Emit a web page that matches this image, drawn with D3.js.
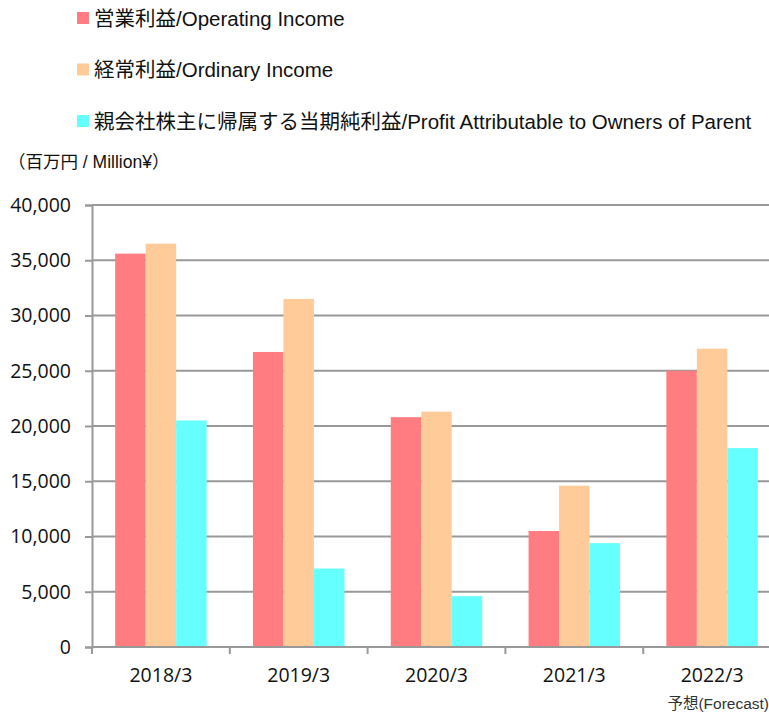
<!DOCTYPE html>
<html>
<head>
<meta charset="utf-8">
<script src="https://cdn.jsdelivr.net/npm/d3@7"></script>
<style>
  body { margin: 0; background: #fff; }
  svg { display: block; }
  .legendText { font-family: "Liberation Sans", Arial, "Noto Sans CJK JP", sans-serif; font-size: 20.5px; fill: #111; }
  .tickText { font-family: "Open Sans", "DejaVu Sans", sans-serif; font-size: 19.5px; fill: #111; }
</style>
</head>
<body>
<div id="chart"></div>
<script>
// data (million yen)
let years = ["2018/3", "2019/3", "2020/3", "2021/3", "2022/3"];
let operatingIncome = [35600, 26700, 20800, 10500, 25000];
let ordinaryIncome = [36500, 31500, 21300, 14600, 27000];
let profitToOwners = [20500, 7100, 4600, 9400, 18000];
let seriesNames = [
    "営業利益/Operating Income",
    "経常利益/Ordinary Income",
    "親会社株主に帰属する当期純利益/Profit Attributable to Owners of Parent"
];
let seriesColors = ["#FF7C80", "#FFCC99", "#66FFFF"];
let yTicks = [0, 5000, 10000, 15000, 20000, 25000, 30000, 35000, 40000];

let width = 769, height = 715;
let margin = {top: 205, left: 92, bottom: 68};
let plotRight = 781;

let svg = d3.select("#chart").append("svg")
    .attr("width", width)
    .attr("height", height);

let series = [operatingIncome, ordinaryIncome, profitToOwners];

let xScale = d3.scaleBand()
    .domain(years)
    .range([margin.left, plotRight])
    .paddingInner(0)
    .paddingOuter(0);

let innerScale = d3.scaleBand()
    .domain([0, 1, 2])
    .range([0, xScale.bandwidth()])
    .paddingOuter(0.76)
    .paddingInner(0);

let yScale = d3.scaleLinear()
    .domain([0, 40000])
    .range([height - margin.bottom, margin.top]);

// gridlines
svg.append("g")
    .selectAll("line")
    .data(yTicks.filter(d => d > 0))
    .enter().append("line")
    .attr("x1", margin.left)
    .attr("x2", width)
    .attr("y1", d => yScale(d))
    .attr("y2", d => yScale(d))
    .attr("stroke", "#999")
    .attr("stroke-width", 2);

// bars
series.forEach((values, i) => {
    svg.append("g")
        .selectAll("rect")
        .data(values)
        .enter().append("rect")
        .attr("x", (d, j) => xScale(years[j]) + innerScale(i))
        .attr("width", innerScale.bandwidth())
        .attr("y", d => yScale(d))
        .attr("height", d => yScale(0) - yScale(d))
        .attr("fill", seriesColors[i]);
});

// y axis
let yAxis = d3.axisLeft(yScale)
    .tickValues(yTicks)
    .tickSize(7)
    .tickPadding(14)
    .tickFormat(d3.format(","));

let yG = svg.append("g")
    .attr("transform", "translate(" + margin.left + ",0)")
    .call(yAxis);
yG.select(".domain").attr("stroke", "#999").attr("stroke-width", 2);
yG.selectAll(".tick line").attr("stroke", "#999").attr("stroke-width", 2);
yG.selectAll(".tick text").attr("class", "tickText").attr("font-family", null).attr("font-size", null);

// x axis
let xAxis = d3.axisBottom(xScale)
    .tickSize(0)
    .tickPadding(21);

let xG = svg.append("g")
    .attr("transform", "translate(0," + yScale(0) + ")")
    .call(xAxis);
xG.select(".domain").attr("stroke", "#999").attr("stroke-width", 2).attr("d", "M" + margin.left + ",0H" + plotRight);
xG.selectAll(".tick text").attr("class", "tickText").attr("font-family", null).attr("font-size", null);

// tick marks between categories
svg.append("g")
    .selectAll("line")
    .data(years)
    .enter().append("line")
    .attr("x1", d => xScale(d))
    .attr("x2", d => xScale(d))
    .attr("y1", yScale(0))
    .attr("y2", yScale(0) + 7)
    .attr("stroke", "#999")
    .attr("stroke-width", 2);

// forecast note
svg.append("text")
    .attr("x", 769)
    .attr("y", 709)
    .attr("text-anchor", "end")
    .style("font-family", "'Liberation Sans', 'Noto Sans CJK JP', sans-serif")
    .style("font-size", "15.5px")
    .style("fill", "#333")
    .text("予想(Forecast)");

// unit label
svg.append("text")
    .attr("x", 8)
    .attr("y", 168)
    .style("font-family", "'Liberation Sans', 'Noto Sans CJK JP', sans-serif")
    .style("font-size", "17.5px")
    .style("fill", "#111")
    .text("（百万円 / Million¥）");

// legend
let legend = svg.append("g")
    .selectAll("g")
    .data(seriesNames)
    .enter().append("g")
    .attr("transform", (d, i) => "translate(77," + (18 + i * 51.5) + ")");

legend.append("rect")
    .attr("x", 0)
    .attr("y", -6)
    .attr("width", 12)
    .attr("height", 12)
    .attr("fill", (d, i) => seriesColors[i]);

legend.append("text")
    .attr("x", 17)
    .attr("y", 7.5)
    .attr("class", "legendText")
    .text(d => d);
</script>
</body>
</html>
